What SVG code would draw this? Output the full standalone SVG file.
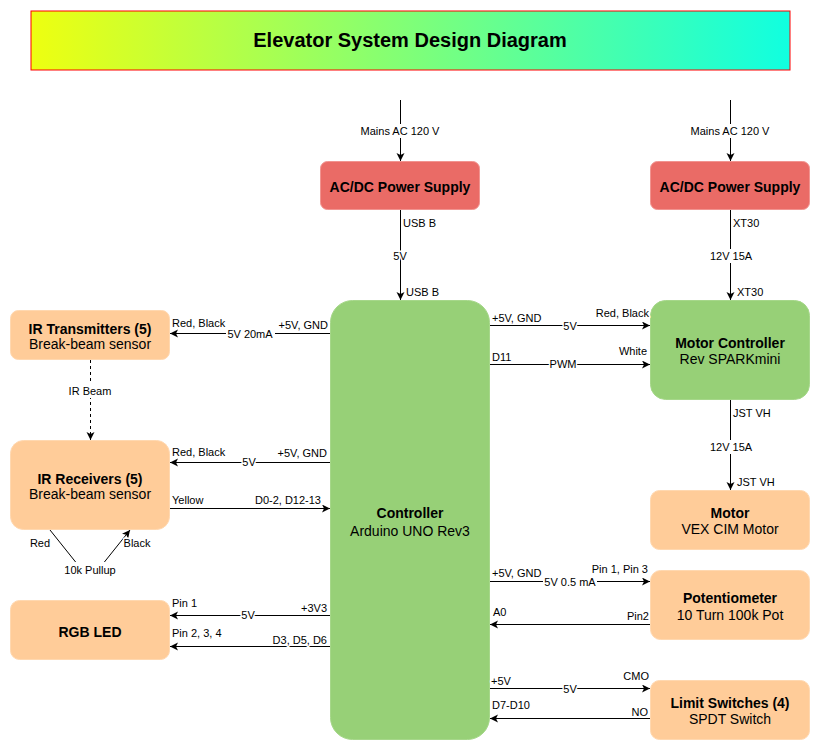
<svg xmlns="http://www.w3.org/2000/svg" width="821" height="751" viewBox="0 0 821 751">
<style>
  text { font-family: "Liberation Sans", Arial, sans-serif; fill: #000; }
  .title { font-size: 20px; font-weight: bold; text-anchor: middle; }
  .nb { font-size: 14px; font-weight: bold; text-anchor: middle; }
  .nt { font-size: 14px; text-anchor: middle; }
  .lbl { font-size: 11px; paint-order: stroke; stroke: #fff; stroke-width: 3px; stroke-linejoin: round; }
  .c { text-anchor: middle; }
  .e { text-anchor: end; }
  .bg { fill: #fff; }
  .red { fill: #EA6B66; stroke: #F19490; stroke-width: 1; }
  .org { fill: #FFCC99; stroke: #FFD8B0; stroke-width: 1; }
  .grn { fill: #97D077; stroke: #A6D78A; stroke-width: 1; }
  .ln { fill: none; stroke: #000; stroke-width: 1; marker-end: url(#arr); }
</style>
<defs>
  <linearGradient id="tg" x1="0" y1="0" x2="1" y2="0">
    <stop offset="0" stop-color="#EEFF10"/>
    <stop offset="1" stop-color="#10FFE0"/>
  </linearGradient>
  <marker id="arr" markerUnits="userSpaceOnUse" markerWidth="10" markerHeight="10" refX="8" refY="4" orient="auto">
    <path d="M0,0 L8,4 L0,8 L2,4 z" fill="#000"/>
  </marker>
</defs>
<rect width="821" height="751" fill="#fff"/>

<g id="title">
  <rect x="31" y="11" width="759" height="59" fill="url(#tg)" stroke="#FF0000" stroke-width="1"/>
  <text class="title" x="410" y="47">Elevator System Design Diagram</text>
</g>

<g id="psu1">
  <rect class="red" x="320.5" y="161.5" width="159" height="48" rx="7"/>
  <text class="nb" x="400" y="192">AC/DC Power Supply</text>
</g>
<g id="psu2">
  <rect class="red" x="650.5" y="161.5" width="159" height="48" rx="7"/>
  <text class="nb" x="730" y="192">AC/DC Power Supply</text>
</g>
<g id="controller">
  <rect class="grn" x="330.5" y="300.5" width="159" height="439" rx="22"/>
  <text class="nb" x="410" y="518">Controller</text>
  <text class="nt" x="410" y="536">Arduino UNO Rev3</text>
</g>
<g id="ir-tx">
  <rect class="org" x="10.5" y="310.5" width="159" height="49" rx="8"/>
  <text class="nb" x="90" y="334">IR Transmitters (5)</text>
  <text class="nt" x="90" y="349">Break-beam sensor</text>
</g>
<g id="ir-rx">
  <rect class="org" x="10.5" y="440.5" width="159" height="89" rx="13"/>
  <text class="nb" x="90" y="484">IR Receivers (5)</text>
  <text class="nt" x="90" y="499">Break-beam sensor</text>
</g>
<g id="rgb">
  <rect class="org" x="10.5" y="600.5" width="159" height="59" rx="9"/>
  <text class="nb" x="90" y="637">RGB LED</text>
</g>
<g id="motor-ctrl">
  <rect class="grn" x="650.5" y="300.5" width="159" height="99" rx="15"/>
  <text class="nb" x="730" y="348">Motor Controller</text>
  <text class="nt" x="730" y="364">Rev SPARKmini</text>
</g>
<g id="motor">
  <rect class="org" x="650.5" y="490.5" width="159" height="59" rx="9"/>
  <text class="nb" x="730" y="518">Motor</text>
  <text class="nt" x="730" y="534">VEX CIM Motor</text>
</g>
<g id="pot">
  <rect class="org" x="650.5" y="570.5" width="159" height="69" rx="10"/>
  <text class="nb" x="730" y="603">Potentiometer</text>
  <text class="nt" x="730" y="620">10 Turn 100k Pot</text>
</g>
<g id="limit">
  <rect class="org" x="650.5" y="680.5" width="159" height="59" rx="9"/>
  <text class="nb" x="730" y="708">Limit Switches (4)</text>
  <text class="nt" x="730" y="724">SPDT Switch</text>
</g>

<g id="connectors">
  <!-- mains -->
  <path class="ln" d="M400.5,100 V161"/>
  <rect class="bg" x="359" y="124" width="82" height="14"/>
  <text class="lbl c" x="400" y="135">Mains AC 120 V</text>
  <path class="ln" d="M730.5,100 V161"/>
  <rect class="bg" x="689" y="124" width="82" height="14"/>
  <text class="lbl c" x="730" y="135">Mains AC 120 V</text>
  <!-- psu1 to controller -->
  <path class="ln" d="M400.5,210 V300"/>
  <text class="lbl" x="403" y="227">USB B</text>
  <text class="lbl c" x="400" y="260">5V</text>
  <text class="lbl" x="406" y="296">USB B</text>
  <!-- psu2 to motor controller -->
  <path class="ln" d="M730.5,210 V300"/>
  <text class="lbl" x="733" y="227">XT30</text>
  <rect class="bg" x="708" y="249" width="46" height="14"/>
  <text class="lbl c" x="731" y="260">12V 15A</text>
  <text class="lbl" x="737" y="296">XT30</text>
  <!-- motor controller to motor -->
  <path class="ln" d="M730.5,400 V490"/>
  <text class="lbl" x="733" y="417">JST VH</text>
  <rect class="bg" x="708" y="440" width="46" height="14"/>
  <text class="lbl c" x="731" y="451">12V 15A</text>
  <text class="lbl" x="737" y="486">JST VH</text>

  <!-- IR transmitters -->
  <path class="ln" d="M330,333.5 H170"/>
  <text class="lbl" x="172" y="327">Red, Black</text>
  <rect class="bg" x="226" y="327" width="49" height="14"/>
  <text class="lbl c" x="250" y="338">5V 20mA</text>
  <text class="lbl e" x="328" y="329">+5V, GND</text>
  <!-- IR beam -->
  <path class="ln" d="M90.5,360 V440" stroke-dasharray="3,3"/>
  <rect class="bg" x="67" y="384" width="47" height="14"/>
  <text class="lbl c" x="90" y="395">IR Beam</text>
  <!-- IR receivers power -->
  <path class="ln" d="M330,462.5 H170"/>
  <text class="lbl" x="172" y="456">Red, Black</text>
  <text class="lbl c" x="249" y="466">5V</text>
  <text class="lbl e" x="327" y="457">+5V, GND</text>
  <!-- IR receivers signal -->
  <path class="ln" d="M170,508.5 H330"/>
  <text class="lbl" x="172" y="504">Yellow</text>
  <text class="lbl e" x="321" y="504">D0-2, D12-13</text>
  <!-- pullup -->
  <path class="ln" d="M50,530 L90,580 L130,530"/>
  <rect class="bg" x="63" y="562" width="54" height="20"/>
  <text class="lbl c" x="90" y="574">10k Pullup</text>
  <text class="lbl c" x="40" y="547">Red</text>
  <text class="lbl c" x="137" y="547">Black</text>
  <!-- RGB -->
  <path class="ln" d="M330,615.5 H170"/>
  <text class="lbl" x="172" y="607">Pin 1</text>
  <text class="lbl c" x="248" y="619">5V</text>
  <text class="lbl e" x="327" y="612">+3V3</text>
  <path class="ln" d="M330,646.5 H170"/>
  <text class="lbl" x="172" y="637">Pin 2, 3, 4</text>
  <text class="lbl e" x="327" y="644">D3, D5, D6</text>

  <!-- motor controller -->
  <path class="ln" d="M490,325.5 H650"/>
  <text class="lbl" x="492" y="322">+5V, GND</text>
  <text class="lbl c" x="570" y="330">5V</text>
  <text class="lbl e" x="649" y="317">Red, Black</text>
  <path class="ln" d="M490,364.5 H650"/>
  <text class="lbl" x="492" y="361">D11</text>
  <text class="lbl c" x="563" y="368">PWM</text>
  <text class="lbl e" x="647" y="355">White</text>
  <!-- pot -->
  <path class="ln" d="M490,581.5 H650"/>
  <text class="lbl" x="492" y="577">+5V, GND</text>
  <rect class="bg" x="543" y="575" width="54" height="14"/>
  <text class="lbl c" x="570" y="586">5V 0.5 mA</text>
  <text class="lbl e" x="648" y="573">Pin 1, Pin 3</text>
  <path class="ln" d="M650,624.5 H490"/>
  <text class="lbl" x="493" y="616">A0</text>
  <text class="lbl e" x="649" y="620">Pin2</text>
  <!-- limit switches -->
  <path class="ln" d="M490,688.5 H650"/>
  <text class="lbl" x="491" y="685">+5V</text>
  <text class="lbl c" x="570" y="693">5V</text>
  <text class="lbl e" x="649" y="680">CMO</text>
  <path class="ln" d="M650,718.5 H490"/>
  <text class="lbl" x="492" y="709">D7-D10</text>
  <text class="lbl e" x="648" y="716">NO</text>
</g>
</svg>
